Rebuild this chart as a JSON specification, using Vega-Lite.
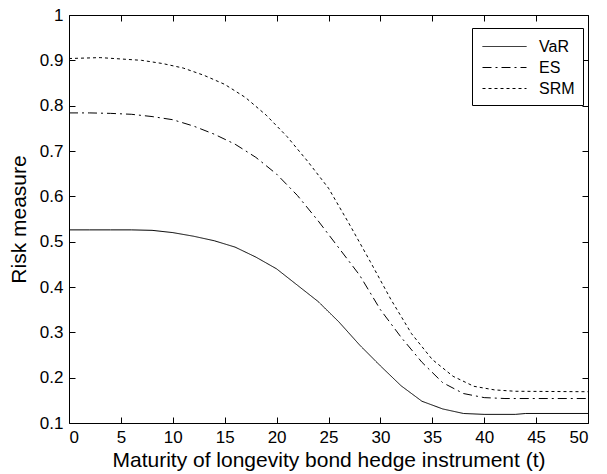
{
  "$schema": "https://vega.github.io/schema/vega-lite/v6.json",
  "width": 519,
  "height": 408,
  "autosize": {"type": "none"},
  "padding": {"left": 69, "top": 15, "right": 19, "bottom": 51},
  "background": "white",
  "config": {
    "font": "Liberation Sans",
    "view": {"stroke": "black", "strokeWidth": 1},
    "axis": {"grid": false, "domain": false, "tickColor": "black", "tickSize": -6, "labelColor": "black", "labelFontSize": 17, "titleFontSize": 21, "titleFontWeight": "normal", "titleColor": "black", "labelFont": "Liberation Sans", "titleFont": "Liberation Sans"}
  },
  "data": {"values": [
    {"t": 0, "m": "VaR", "v": 0.526}, {"t": 2, "m": "VaR", "v": 0.526}, {"t": 4, "m": "VaR", "v": 0.526}, {"t": 6, "m": "VaR", "v": 0.526}, {"t": 8, "m": "VaR", "v": 0.525}, {"t": 10, "m": "VaR", "v": 0.52}, {"t": 12, "m": "VaR", "v": 0.512}, {"t": 14, "m": "VaR", "v": 0.502}, {"t": 16, "m": "VaR", "v": 0.488}, {"t": 18, "m": "VaR", "v": 0.466}, {"t": 20, "m": "VaR", "v": 0.44}, {"t": 22, "m": "VaR", "v": 0.404}, {"t": 24, "m": "VaR", "v": 0.368}, {"t": 26, "m": "VaR", "v": 0.323}, {"t": 28, "m": "VaR", "v": 0.272}, {"t": 30, "m": "VaR", "v": 0.226}, {"t": 32, "m": "VaR", "v": 0.182}, {"t": 34, "m": "VaR", "v": 0.148}, {"t": 36, "m": "VaR", "v": 0.131}, {"t": 38, "m": "VaR", "v": 0.121}, {"t": 40, "m": "VaR", "v": 0.119}, {"t": 43, "m": "VaR", "v": 0.119}, {"t": 44, "m": "VaR", "v": 0.121}, {"t": 50, "m": "VaR", "v": 0.121},
    {"t": 0, "m": "ES", "v": 0.784}, {"t": 2, "m": "ES", "v": 0.784}, {"t": 4, "m": "ES", "v": 0.783}, {"t": 6, "m": "ES", "v": 0.781}, {"t": 8, "m": "ES", "v": 0.776}, {"t": 10, "m": "ES", "v": 0.769}, {"t": 12, "m": "ES", "v": 0.755}, {"t": 14, "m": "ES", "v": 0.737}, {"t": 16, "m": "ES", "v": 0.715}, {"t": 18, "m": "ES", "v": 0.686}, {"t": 20, "m": "ES", "v": 0.649}, {"t": 22, "m": "ES", "v": 0.602}, {"t": 24, "m": "ES", "v": 0.546}, {"t": 26, "m": "ES", "v": 0.486}, {"t": 28, "m": "ES", "v": 0.426}, {"t": 30, "m": "ES", "v": 0.35}, {"t": 32, "m": "ES", "v": 0.289}, {"t": 34, "m": "ES", "v": 0.234}, {"t": 36, "m": "ES", "v": 0.189}, {"t": 38, "m": "ES", "v": 0.165}, {"t": 40, "m": "ES", "v": 0.156}, {"t": 42, "m": "ES", "v": 0.154}, {"t": 50, "m": "ES", "v": 0.154},
    {"t": 0, "m": "SRM", "v": 0.904}, {"t": 3, "m": "SRM", "v": 0.906}, {"t": 5, "m": "SRM", "v": 0.903}, {"t": 7, "m": "SRM", "v": 0.9}, {"t": 9, "m": "SRM", "v": 0.893}, {"t": 11, "m": "SRM", "v": 0.883}, {"t": 13, "m": "SRM", "v": 0.867}, {"t": 15, "m": "SRM", "v": 0.847}, {"t": 17, "m": "SRM", "v": 0.818}, {"t": 19, "m": "SRM", "v": 0.779}, {"t": 21, "m": "SRM", "v": 0.732}, {"t": 23, "m": "SRM", "v": 0.677}, {"t": 25, "m": "SRM", "v": 0.618}, {"t": 27, "m": "SRM", "v": 0.539}, {"t": 29, "m": "SRM", "v": 0.457}, {"t": 31, "m": "SRM", "v": 0.373}, {"t": 33, "m": "SRM", "v": 0.297}, {"t": 35, "m": "SRM", "v": 0.24}, {"t": 37, "m": "SRM", "v": 0.203}, {"t": 39, "m": "SRM", "v": 0.181}, {"t": 41, "m": "SRM", "v": 0.173}, {"t": 43, "m": "SRM", "v": 0.17}, {"t": 50, "m": "SRM", "v": 0.169}
  ]},
  "layer": [
    {
      "mark": {"type": "line", "color": "black", "strokeWidth": 1},
      "encoding": {
        "x": {"field": "t", "type": "quantitative", "scale": {"domain": [0, 50], "nice": false}, "axis": {"values": [0,5,10,15,20,25,30,35,40,45,50], "title": "Maturity of longevity bond hedge instrument (t)", "labelPadding": 12, "titlePadding": 4}},
        "y": {"field": "v", "type": "quantitative", "scale": {"domain": [0.1, 1], "nice": false, "zero": false}, "axis": {"values": [0.1,0.2,0.3,0.4,0.5,0.6,0.7,0.8,0.9,1], "format": ".1~f", "title": "Risk measure", "labelPadding": 12, "titlePadding": 10}},
        "strokeDash": {"field": "m", "type": "nominal", "scale": {"domain": ["VaR", "ES", "SRM"], "range": [[1, 0], [9, 4, 2, 4], [3, 3]]},
          "legend": {"title": null, "orient": "none", "legendX": 403, "legendY": 13, "symbolType": "M-0.8,0H3.6", "symbolSize": 400, "symbolStrokeColor": "black", "symbolStrokeWidth": 1, "symbolFillColor": "transparent", "labelFontSize": 16, "labelColor": "black", "labelFont": "Liberation Sans", "labelOffset": 38, "rowPadding": 2, "padding": 8, "strokeColor": "black", "fillColor": "white", "cornerRadius": 0}},
        "detail": {"field": "m"}
      }
    },
    {
      "mark": {"type": "line", "opacity": 0},
      "encoding": {
        "x": {"field": "t", "type": "quantitative", "axis": {"orient": "top", "values": [0,5,10,15,20,25,30,35,40,45,50], "labels": false, "title": null}},
        "y": {"field": "v", "type": "quantitative", "axis": {"orient": "right", "values": [0.1,0.2,0.3,0.4,0.5,0.6,0.7,0.8,0.9,1], "labels": false, "title": null}},
        "detail": {"field": "m"}
      }
    }
  ],
  "resolve": {"axis": {"x": "independent", "y": "independent"}}
}
